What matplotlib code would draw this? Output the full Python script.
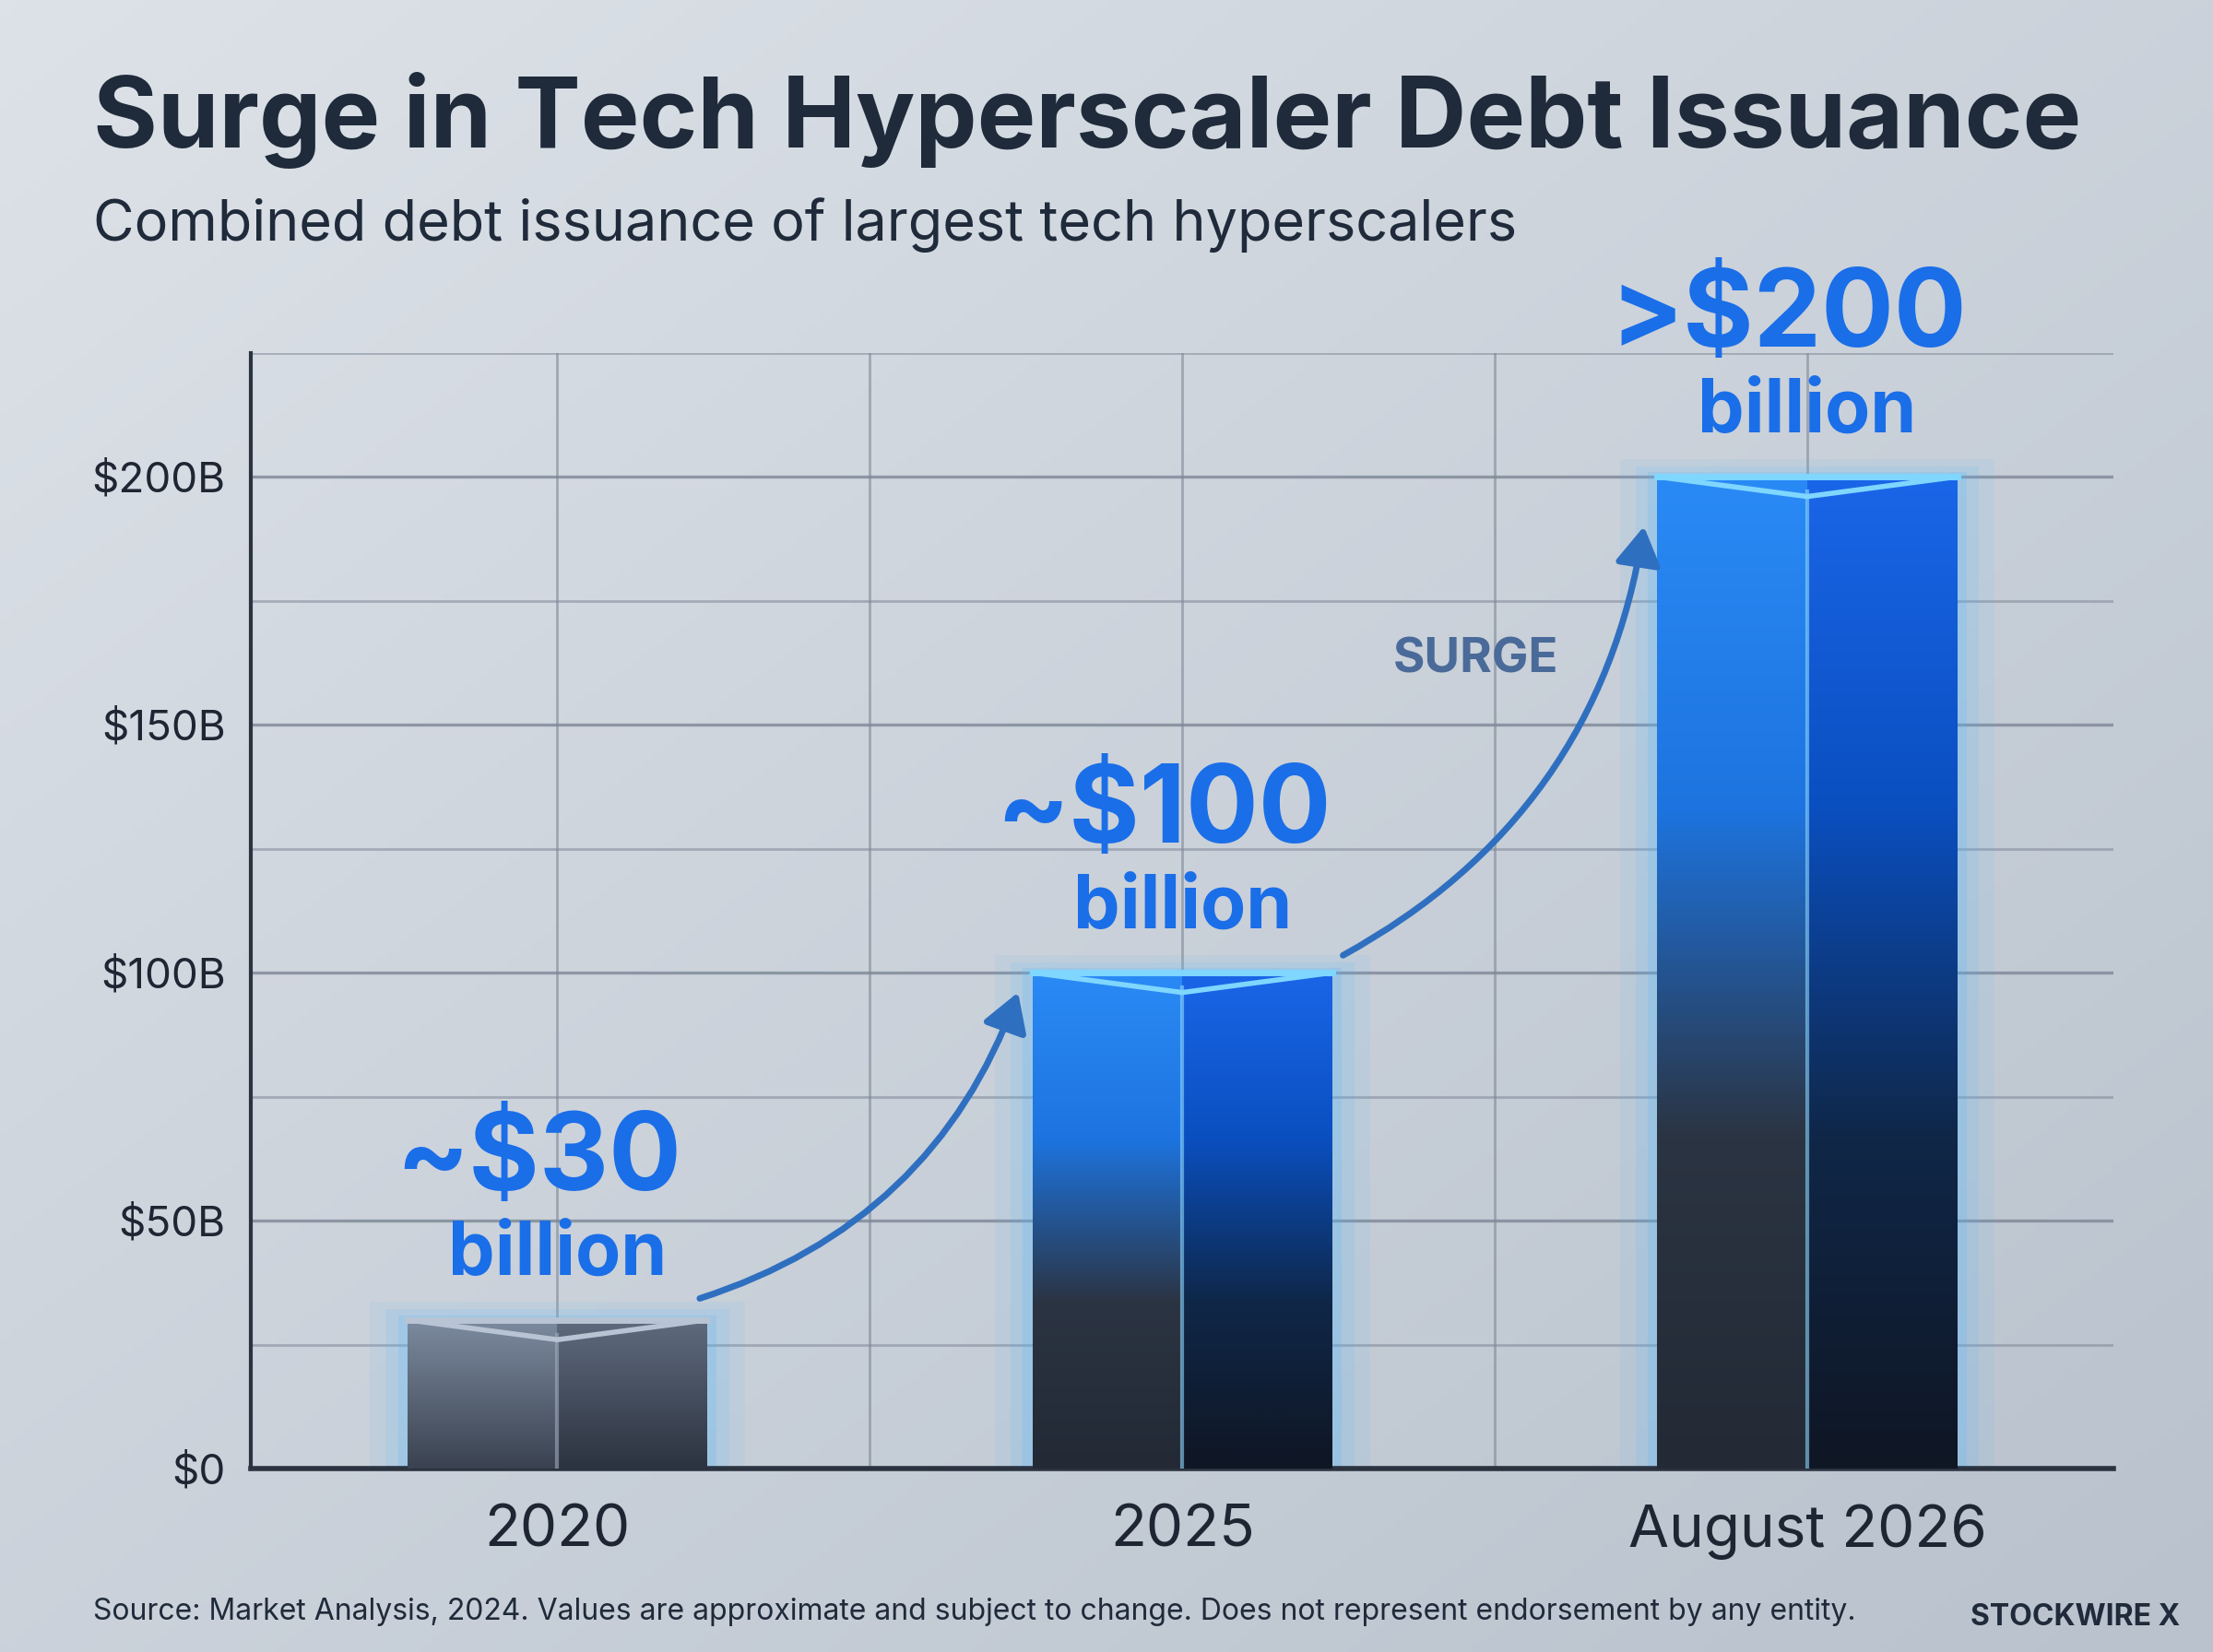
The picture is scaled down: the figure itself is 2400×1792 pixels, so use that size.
import numpy as np
import matplotlib.pyplot as plt
from matplotlib.patches import Rectangle, FancyArrowPatch
from matplotlib.colors import LinearSegmentedColormap

categories = ["2020", "2025", "August 2026"]
values = [30, 100, 200]
value_labels = ["~$30", "~$100", ">$200"]
yticks = [0, 50, 100, 150, 200]
ytick_labels = ["$0", "$50B", "$100B", "$150B", "$200B"]

plt.rcParams['font.family'] = ['Inter', 'DejaVu Sans']
fig = plt.figure(figsize=(12, 8.96), dpi=200)

bg = fig.add_axes([0, 0, 1, 1], zorder=-10)
gx, gy = np.meshgrid(np.linspace(0, 1, 200), np.linspace(0, 1, 200))
bgv = 0.5 * gx + 0.5 * (1 - gy)
bg.imshow(bgv, extent=[0, 1, 0, 1], aspect='auto', origin='lower',
          cmap=LinearSegmentedColormap.from_list('bg', ['#dde2e8', '#b9c2cd']))
bg.axis('off')

ax = fig.add_axes([0.1135, 0.111, 0.8415, 0.6755])
ax.patch.set_alpha(0)
ax.set_xlim(-0.49, 2.49)
ax.set_ylim(0, 225)
for yv in np.arange(25, 226, 25):
    ax.axhline(yv, color='#7d8796', lw=1.0 if yv % 50 else 1.2, alpha=0.55 if yv % 50 else 0.8, zorder=1)
for xv in [0, 0.5, 1, 1.5, 2]:
    ax.axvline(xv, color='#7d8796', lw=1.0, alpha=0.6, zorder=1)
for s in ['top', 'right']:
    ax.spines[s].set_visible(False)
ax.spines['left'].set_color('#2b3340'); ax.spines['left'].set_linewidth(1.5)
ax.spines['bottom'].set_color('#2b3340'); ax.spines['bottom'].set_linewidth(2)
ax.set_yticks(yticks)
ax.set_yticklabels(ytick_labels, fontsize=16.5, color='#1f2633')
ax.set_xticks(range(len(categories)))
ax.set_xticklabels(categories, fontsize=23, color='#1f2633')
ax.tick_params(length=0, pad=10)
ax.tick_params(axis='x', pad=14)

w = 0.48
grad = np.linspace(0, 1, 256).reshape(-1, 1)
for i, (v, lab) in enumerate(zip(values, value_labels)):
    x0 = i - w / 2
    if i == 0:
        cl = LinearSegmentedColormap.from_list('l', ['#3a4250', '#7d8ba0'])
        cr = LinearSegmentedColormap.from_list('r', ['#2c3340', '#5f6b7e'])
    else:
        cl = LinearSegmentedColormap.from_list('l', ['#232a36', '#2b3442', '#1d74e0', '#2a8af5'])
        cr = LinearSegmentedColormap.from_list('r', ['#0f1624', '#0f2748', '#0a4fc0', '#1a66e8'])
    for k, a in [(0.06, 0.08), (0.035, 0.12), (0.015, 0.18)]:
        ax.add_patch(Rectangle((x0 - k, 0), w + 2 * k, v + k * 60, color='#4fb6ff', alpha=a, lw=0, zorder=2))
    for (xa, xb, cm) in [(x0, i, cl), (i, x0 + w, cr)]:
        im = ax.imshow(grad, extent=[xa, xb, 0, v], origin='lower', aspect='auto', cmap=cm, zorder=3)
        im.set_clip_path(Rectangle((xa, 0), xb - xa, v, transform=ax.transData))
    ax.plot([i, i], [0, v - 3], color='#8fd8ff' if i else '#a0aec0', lw=1.5, alpha=0.6, zorder=4)
    top_col = '#7fd6ff' if i else '#b8c4d4'
    ax.plot([x0, i, x0 + w], [v, v - 4, v], color=top_col, lw=2, zorder=4)
    ax.plot([x0, x0 + w], [v, v], color=top_col, lw=2.5, zorder=4)
    ax.text(i - 0.03, v + 32, lab, ha='center', va='center', fontsize=42, fontweight='bold', color='#1a6ee8', zorder=6)
    ax.text(i, v + 13, "billion", ha='center', va='center', fontsize=29, fontweight='bold', color='#1a6ee8', zorder=6)

for (p0, p1) in [((0.22, 34), (0.74, 97)), ((1.25, 103), (1.74, 191))]:
    ax.add_patch(FancyArrowPatch(p0, p1, connectionstyle="arc3,rad=0.25",
                                 arrowstyle='-|>,head_length=5,head_width=3', color='#2f6fc0', lw=2.5, zorder=5,
                                 mutation_scale=2.5))
ax.text(1.47, 163, "SURGE", ha='center', va='center', fontsize=19, fontweight='bold', color='#4a6a99', zorder=6)

fig.text(0.042, 0.927, "Surge in Tech Hyperscaler Debt Issuance", fontsize=38.5, fontweight='bold',
         color='#1f2a3a', va='center')
fig.text(0.042, 0.864, "Combined debt issuance of largest tech hyperscalers", fontsize=22,
         color='#1f2a3a', va='center')
fig.text(0.042, 0.024, "Source: Market Analysis, 2024. Values are approximate and subject to change. Does not represent endorsement by any entity.",
         fontsize=11.5, color='#1f2a3a', va='center')
fig.text(0.985, 0.012, "STOCKWIRE X", fontsize=11.5, fontweight='bold', color='#1f2a3a', ha='right', va='bottom')

fig.savefig("out.png", dpi=200)
